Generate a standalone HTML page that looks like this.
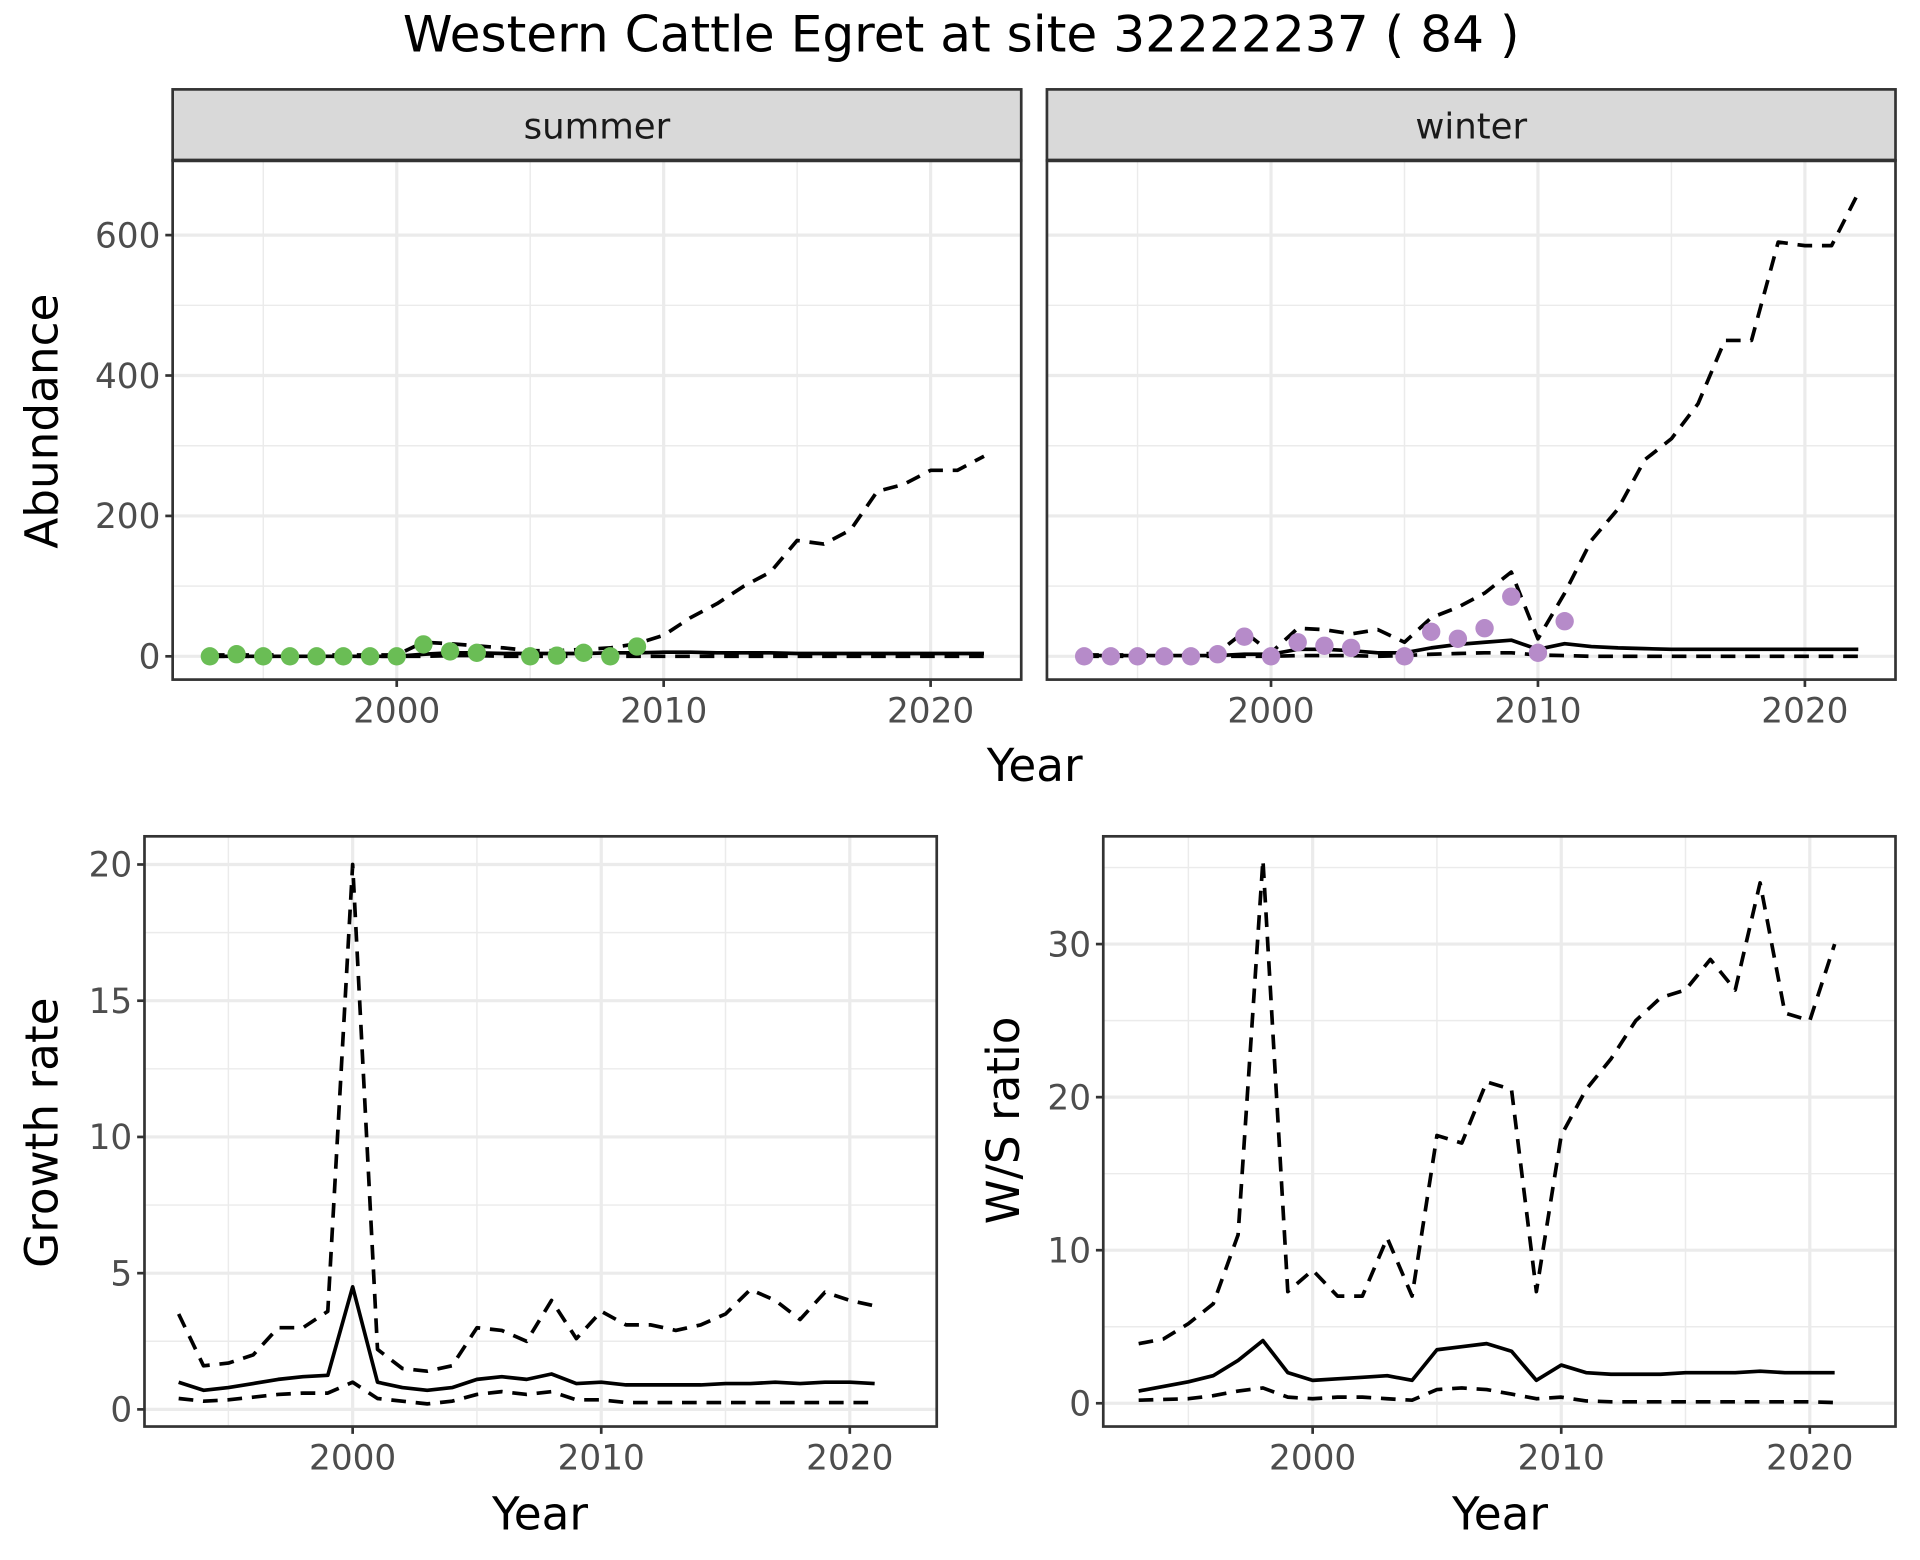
<!DOCTYPE html>
<html><head><meta charset="utf-8"><style>
html,body{margin:0;padding:0;background:#fff}
svg{display:block;font-family:"DejaVu Sans","Liberation Sans",sans-serif}
</style></head><body>
<svg id="c" width="1920" height="1560" viewBox="0 0 1568 1274" xmlns="http://www.w3.org/2000/svg">
<text x="785" y="42" font-size="41" text-anchor="middle" fill="#000">Western Cattle Egret at site 32222237 ( 84 )</text>
</svg>
<script>
// ---- data ----
const sYears=[1993,1994,1995,1996,1997,1998,1999,2000,2001,2002,2003,2004,2005,2006,2007,2008,2009,2010,2011,2012,2013,2014,2015,2016,2017,2018,2019,2020,2021,2022];
const sumMean=[0,0,0,0,0,0,0,0,3,5,5,4,4,4,4,5,5,6,6,5,5,5,4,4,4,4,4,4,4,4];
const sumUpper=[2,2,2,2,2,2,2,2,20,18,15,12,8,8,10,12,18,30,55,75,100,120,165,160,180,235,245,265,265,285];
const sumLower=[0,0,0,0,0,0,0,0,0,1,1,0,0,0,0,0,0,0,0,0,0,0,0,0,0,0,0,0,0,0];
const sumPtYears=[1993,1994,1995,1996,1997,1998,1999,2000,2001,2002,2003,2005,2006,2007,2008,2009];
const sumPts=[0,3,0,0,0,0,0,0,17,7,5,0,1,5,0,14];
const winMean=[1,1,1,1,1,1,3,3,10,10,8,5,5,12,17,20,23,10,18,14,12,11,10,10,10,10,10,10,10,10];
const winUpper=[2,2,2,2,2,5,35,5,40,38,32,38,20,55,70,90,120,25,90,165,210,280,310,360,450,450,590,585,585,660];
const winLower=[0,0,0,0,0,0,0,0,1,1,1,0,1,3,4,5,5,2,1,0,0,0,0,0,0,0,0,0,0,0];
const winPtYears=[1993,1994,1995,1996,1997,1998,1999,2000,2001,2002,2003,2005,2006,2007,2008,2009,2010,2011];
const winPts=[0,0,0,0,0,3,28,0,20,15,12,0,35,25,40,85,5,50];
const gYears=[1993,1994,1995,1996,1997,1998,1999,2000,2001,2002,2003,2004,2005,2006,2007,2008,2009,2010,2011,2012,2013,2014,2015,2016,2017,2018,2019,2020,2021];
const grMean=[1.0,0.7,0.8,0.95,1.1,1.2,1.25,4.5,1.0,0.8,0.7,0.8,1.1,1.2,1.1,1.3,0.95,1.0,0.9,0.9,0.9,0.9,0.95,0.95,1.0,0.95,1.0,1.0,0.95];
const grUpper=[3.5,1.6,1.7,2.0,3.0,3.0,3.6,20,2.2,1.5,1.4,1.6,3.0,2.9,2.5,4.0,2.6,3.6,3.1,3.1,2.9,3.1,3.5,4.4,4.0,3.3,4.3,4.0,3.8];
const grLower=[0.4,0.3,0.35,0.45,0.55,0.6,0.6,1.0,0.4,0.3,0.2,0.3,0.55,0.65,0.55,0.65,0.35,0.35,0.25,0.25,0.25,0.25,0.25,0.25,0.25,0.25,0.25,0.25,0.25];
const wsMean=[0.8,1.1,1.4,1.8,2.8,4.1,2.0,1.5,1.6,1.7,1.8,1.5,3.5,3.7,3.9,3.4,1.5,2.5,2.0,1.9,1.9,1.9,2.0,2.0,2.0,2.1,2.0,2.0,2.0];
const wsUpper=[3.9,4.2,5.2,6.5,11,35.5,7.3,8.7,7,7,10.8,7,17.5,17,21,20.5,7.3,17.5,20.5,22.5,25,26.5,27,29,27,34,25.5,25,30];
const wsLower=[0.2,0.25,0.3,0.5,0.8,1.0,0.4,0.3,0.4,0.4,0.3,0.2,0.9,1.0,0.9,0.6,0.3,0.4,0.15,0.1,0.1,0.1,0.1,0.1,0.1,0.1,0.1,0.1,0.05];
const absTicks=[0,200,400,600];
const grTicks=[0,5,10,15,20];
const wsTicks=[0,10,20,30];
const xTicks=[2000,2010,2020];

const svg=document.getElementById('c');
const NS='http://www.w3.org/2000/svg';
function mk(tag,attrs,parent){const e=document.createElementNS(NS,tag);for(const k in attrs)e.setAttribute(k,attrs[k]);(parent||svg).appendChild(e);return e;}

function panel(name,x0,x1,y0,y1,xs,ys,yTicks,yMinor,xMinor,showY){
  const g=mk('g',{});
  
  
  mk('rect',{x:x0,y:y0,width:x1-x0,height:y1-y0,fill:'#fff'},g);
  yMinor.forEach(v=>mk('line',{x1:x0,x2:x1,y1:ys(v),y2:ys(v),stroke:'#ebebeb','stroke-width':1.2},g));
  xMinor.forEach(v=>mk('line',{x1:xs(v),x2:xs(v),y1:y0,y2:y1,stroke:'#ebebeb','stroke-width':1.2},g));
  yTicks.forEach(v=>mk('line',{x1:x0,x2:x1,y1:ys(v),y2:ys(v),stroke:'#ebebeb','stroke-width':2.6},g));
  xTicks.forEach(v=>mk('line',{x1:xs(v),x2:xs(v),y1:y0,y2:y1,stroke:'#ebebeb','stroke-width':2.6},g));
  xTicks.forEach(v=>{
    mk('line',{x1:xs(v),x2:xs(v),y1:y1,y2:y1+6,stroke:'#333','stroke-width':2.2},g);
    const t=mk('text',{x:xs(v),y:y1+35,'font-size':28,'text-anchor':'middle',fill:'#4d4d4d'},g);
    
    
    t.textContent=v;
  });
  if(showY) yTicks.forEach(v=>{
    mk('line',{x1:x0-6,x2:x0,y1:ys(v),y2:ys(v),stroke:'#333','stroke-width':2.2},g);
    const t=mk('text',{x:x0-10,y:ys(v)+10,'font-size':28,'text-anchor':'end',fill:'#4d4d4d'},g);
    
    
    t.textContent=v;
  });
  return g;
}
function line(g,name,xsArr,vals,xs,ys,dashed){
  const d=xsArr.map((x,i)=>(i?'L':'M')+xs(x).toFixed(1)+','+ys(vals[i]).toFixed(1)).join(' ');
  const p=mk('path',{d:d,fill:'none',stroke:'#000','stroke-width':3,'stroke-dasharray':dashed?'12,8':'none','stroke-linejoin':'round'},g);
  
  
}
function border(g,x0,x1,y0,y1){mk('rect',{x:x0,y:y0,width:x1-x0,height:y1-y0,fill:'none',stroke:'#333','stroke-width':2.2},g);}
function strip(label,x0,x1){
  const r=mk('rect',{x:x0,y:73,width:x1-x0,height:58,fill:'#d9d9d9',stroke:'#333','stroke-width':2.2});
  
  
  mk('line',{x1:x0,x2:x1,y1:131,y2:131,stroke:'#333','stroke-width':3});
  const t=mk('text',{x:(x0+x1)/2,y:113,'font-size':29,'text-anchor':'middle',fill:'#1a1a1a'});
  
  
  t.textContent=label;
}

// top panels
const absY=v=>536-v*(344/600);
function topPanel(label,x0,x1,x2000,mean,up,lo,ptY,pts,col,showY){
  const xs=y=>x2000+(y-2000)*21.8;
  const g=panel(label,x0,x1,131,555,xs,absY,absTicks,[100,300,500],[1995,2005,2015],showY);
  line(g,label+'-upper-line',sYears,up,xs,absY,true);
  line(g,label+'-lower-line',sYears,lo,xs,absY,true);
  line(g,label+'-mean-line',sYears,mean,xs,absY,false);
  ptY.forEach((y,i)=>{
    const c=mk('circle',{cx:xs(y),cy:absY(pts[i]),r:7.5,fill:col},g);
    
    
  });
  border(g,x0,x1,131,555);
  strip(label,x0,x1);
}
topPanel('summer',141,834,324,sumMean,sumUpper,sumLower,sumPtYears,sumPts,'#6abd55',true);
topPanel('winter',855,1548,1038,winMean,winUpper,winLower,winPtYears,winPts,'#b68bc9',false);

// growth rate
{
  const xs=y=>288+(y-2000)*20.3, ys=v=>1151-v*22.25;
  const g=panel('growth-rate',118,765,683,1165,xs,ys,grTicks,[2.5,7.5,12.5,17.5],[1995,2005,2015],true);
  line(g,'growth-upper-line',gYears,grUpper,xs,ys,true);
  line(g,'growth-lower-line',gYears,grLower,xs,ys,true);
  line(g,'growth-mean-line',gYears,grMean,xs,ys,false);
  border(g,118,765,683,1165);
}
// ws ratio
{
  const xs=y=>1072+(y-2000)*20.3, ys=v=>1146-v*12.5;
  const g=panel('ws-ratio',901,1548,683,1165,xs,ys,wsTicks,[5,15,25,35],[1995,2005,2015],true);
  line(g,'ws-upper-line',gYears,wsUpper,xs,ys,true);
  line(g,'ws-lower-line',gYears,wsLower,xs,ys,true);
  line(g,'ws-mean-line',gYears,wsMean,xs,ys,false);
  border(g,901,1548,683,1165);
}
function label(name,txt,x,y,rot){
  const t=mk('text',{x:x,y:y,'font-size':37,'text-anchor':'middle',fill:'#000',transform:rot?`rotate(-90 ${x} ${y})`:''});
  
  
  t.textContent=txt;
}
label('top-x-axis-title','Year',845,638,false);
label('abundance-y-axis-title','Abundance',47,344,true);
label('growth-x-axis-title','Year',441,1249,false);
label('growth-y-axis-title','Growth rate',47,925,true);
label('ws-x-axis-title','Year',1225,1249,false);
label('ws-y-axis-title','W/S ratio',832,915,true);
</script>
</body></html>
